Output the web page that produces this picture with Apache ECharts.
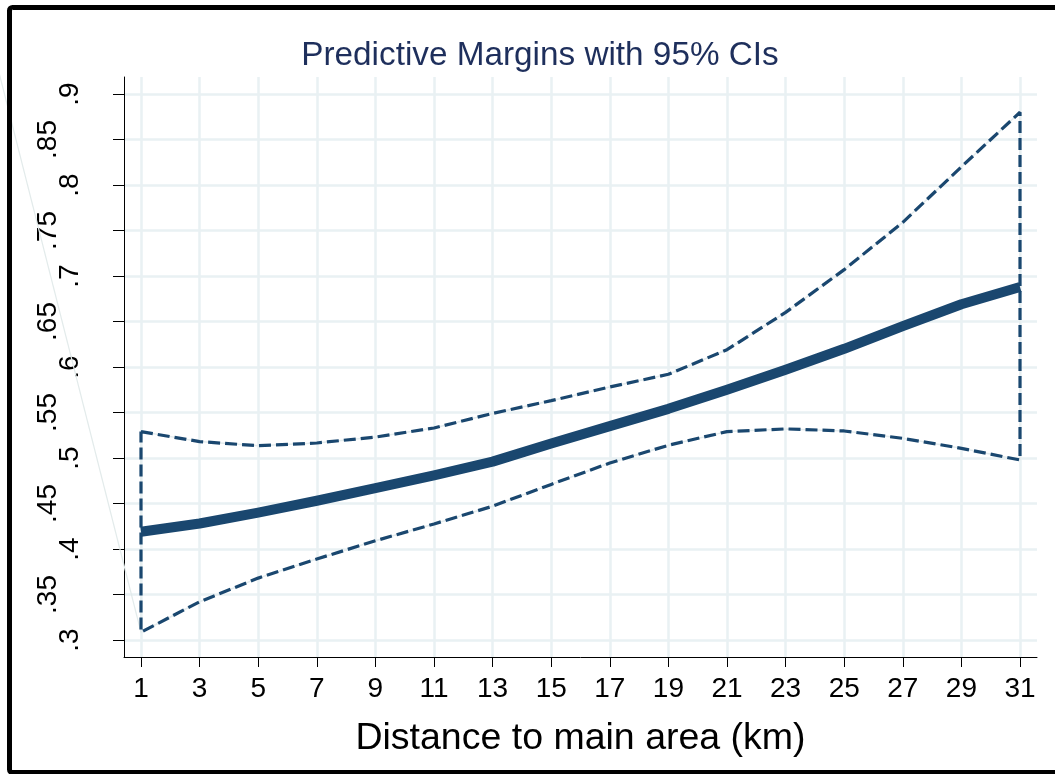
<!DOCTYPE html>
<html>
<head>
<meta charset="utf-8">
<script src="https://cdn.jsdelivr.net/npm/echarts@6/dist/echarts.min.js"></script>
<style>
html,body{margin:0;padding:0;background:#fff;}
#c{width:1055px;height:774px;}
</style>
</head>
<body>
<div id="c"></div>
<script>
// ---- data ----
var distance = [1, 3, 5, 7, 9, 11, 13, 15, 17, 19, 21, 23, 25, 27, 29, 31];
var margin   = [0.419, 0.428, 0.440, 0.453, 0.467, 0.481, 0.496, 0.516, 0.535, 0.554, 0.575, 0.597, 0.620, 0.645, 0.669, 0.688];
var upperCI  = [0.529, 0.518, 0.5135, 0.5165, 0.523, 0.533, 0.549, 0.563, 0.578, 0.592, 0.619, 0.660, 0.707, 0.759, 0.820, 0.880];
var lowerCI  = [0.3085, 0.342, 0.368, 0.389, 0.409, 0.4275, 0.447, 0.471, 0.4945, 0.514, 0.529, 0.532, 0.5297, 0.5216, 0.5106, 0.4978];
var xTicks = [1, 3, 5, 7, 9, 11, 13, 15, 17, 19, 21, 23, 25, 27, 29, 31];
var yTicks = [0.3, 0.35, 0.4, 0.45, 0.5, 0.55, 0.6, 0.65, 0.7, 0.75, 0.8, 0.85, 0.9];
var yTickLabels = ['.3', '.35', '.4', '.45', '.5', '.55', '.6', '.65', '.7', '.75', '.8', '.85', '.9'];
var strayX = [1, -5];
var strayY = [0.3085, 1.07];

// ---- build ----
var mainData = distance.map(function (d, i) { return [d, margin[i]]; });
var ciPath = [];
distance.forEach(function (d, i) { ciPath.push([d, upperCI[i]]); });
for (var i = distance.length - 1; i >= 0; i--) ciPath.push([distance[i], lowerCI[i]]);
ciPath.push([distance[0], upperCI[0]]);

var navy = '#1a476f';
var gridColor = '#e9f1f3';

var chart = echarts.init(document.getElementById('c'), null, {renderer: 'canvas'});
chart.setOption({
  animation: false,
  backgroundColor: '#fff',
  title: {
    text: 'Predictive Margins with 95% CIs',
    left: 540, top: 39, textAlign: 'center', padding: 0,
    textStyle: {fontFamily: 'Liberation Sans', fontSize: 33.3, fontWeight: 'normal', color: '#1e2f5c'}
  },
  grid: {left: 124, right: 18, top: 77, bottom: 117, containLabel: false},
  xAxis: {
    type: 'value', min: 0.42, max: 31.58,
    name: 'Distance to main area (km)', nameLocation: 'middle', nameGap: 63,
    nameTextStyle: {fontFamily: 'Liberation Sans', fontSize: 37.5, color: '#000'},
    axisLine: {show: true, onZero: false, lineStyle: {color: '#000', width: 1}},
    axisTick: {show: true, customValues: xTicks, length: 10, lineStyle: {color: '#000', width: 1}},
    axisLabel: {customValues: xTicks, margin: 18, fontFamily: 'Liberation Sans', fontSize: 28, color: '#000'},
    splitLine: {show: true, lineStyle: {color: gridColor, width: 2.5}}
  },
  yAxis: {
    type: 'value', min: 0.2813, max: 0.9187,
    axisLine: {show: true, onZero: false, lineStyle: {color: '#000', width: 1}},
    axisTick: {show: true, customValues: yTicks, length: 11, lineStyle: {color: '#000', width: 1}},
    axisLabel: {
      customValues: yTicks, rotate: 90, margin: 40,
      fontFamily: 'Liberation Sans', fontSize: 28, color: '#000',
      formatter: function (v) {
        var idx = -1;
        for (var k = 0; k < yTicks.length; k++) if (Math.abs(yTicks[k] - v) < 1e-6) idx = k;
        var s = idx >= 0 ? yTickLabels[idx] : String(v);
        return s.length > 2 ? '{b|' + s + '}' : '{a|' + s + '}';
      },
      rich: {
        a: {fontFamily: 'Liberation Sans', fontSize: 28, color: '#000'},
        b: {fontFamily: 'Liberation Sans', fontSize: 28, color: '#000', padding: [0, 0, 22, 0]}
      }
    },
    splitLine: {show: true, lineStyle: {color: gridColor, width: 2.5}}
  },
  series: [
    {type: 'custom', clip: false, silent: true, z: 1,
     data: [[strayX[0], strayY[0], strayX[1], strayY[1]]],
     renderItem: function (params, api) {
       var p0 = api.coord([api.value(0), api.value(1)]);
       var p1 = api.coord([api.value(2), api.value(3)]);
       return {type: 'line', shape: {x1: p0[0], y1: p0[1], x2: p1[0], y2: p1[1]},
               style: {stroke: '#e3ebeb', lineWidth: 1.2}};
     }},
    {type: 'line', data: ciPath, symbol: 'none', silent: true,
     lineStyle: {color: '#e4ecee', width: 1.5}, z: 2},
    {type: 'line', data: ciPath, symbol: 'none', silent: true,
     lineStyle: {color: navy, width: 3.2, type: [12, 5], cap: 'butt'}, z: 3},
    {type: 'line', data: mainData, symbol: 'none', silent: true,
     lineStyle: {color: navy, width: 10, cap: 'butt', join: 'round'}, z: 4}
  ],
  graphic: [{
    type: 'rect', silent: true, z: 100,
    shape: {x: 9.5, y: 7.5, width: 1060, height: 765, r: 3},
    style: {fill: 'none', stroke: '#000', lineWidth: 5}
  }]
});
</script>
</body>
</html>
